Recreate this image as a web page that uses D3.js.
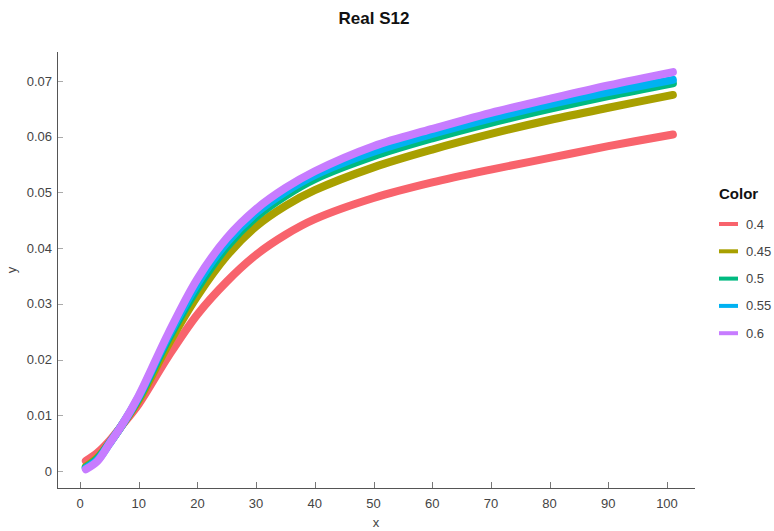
<!DOCTYPE html>
<html>
<head>
<meta charset="utf-8">
<script src="https://cdn.jsdelivr.net/npm/d3@7"></script>
<style>
  body { margin: 0; background: #fff; }
  svg { font-family: "Liberation Sans", Arial, sans-serif; }
</style>
</head>
<body>
<svg id="chart" width="774" height="531"></svg>
<script>
// data
var xs = [1, 3, 5, 7, 10, 15, 20, 25, 30, 35, 40, 50, 60, 70, 80, 90, 101];
var seriesNames = ['0.4', '0.45', '0.5', '0.55', '0.6'];
var y04  = [0.0018, 0.0033, 0.0054, 0.0080, 0.0120, 0.0205, 0.0281, 0.0340, 0.0388, 0.0424, 0.0452, 0.0490, 0.0518, 0.0541, 0.0562, 0.0583, 0.0604];
var y045 = [0.0008, 0.0024, 0.0050, 0.0080, 0.0127, 0.0226, 0.0314, 0.0386, 0.0439, 0.0476, 0.0504, 0.0545, 0.0577, 0.0605, 0.0630, 0.0652, 0.0675];
var y05  = [0.0006, 0.0022, 0.0050, 0.0080, 0.0131, 0.0236, 0.0328, 0.0402, 0.0456, 0.0494, 0.0524, 0.0565, 0.0597, 0.0625, 0.0650, 0.0673, 0.0696];
var y055 = [0.0005, 0.0020, 0.0049, 0.0080, 0.0133, 0.0241, 0.0336, 0.0410, 0.0463, 0.0501, 0.0531, 0.0573, 0.0605, 0.0633, 0.0658, 0.0680, 0.0702];
var y06  = [0.0003, 0.0018, 0.0049, 0.0080, 0.0135, 0.0246, 0.0345, 0.0418, 0.0470, 0.0508, 0.0538, 0.0583, 0.0614, 0.0643, 0.0668, 0.0692, 0.0716];
var colors = ['#F8636C', '#A8A000', '#00BA80', '#00B2F2', '#C77CFF'];
var xTicks = [0, 10, 20, 30, 40, 50, 60, 70, 80, 90, 100];
var yTicks = [0, 0.01, 0.02, 0.03, 0.04, 0.05, 0.06, 0.07];

var allY = [y04, y045, y05, y055, y06];
var series = seriesNames.map(function(n, i) {
    return { name: n, color: colors[i], values: xs.map(function(x, j) { return { x: x, y: allY[i][j] }; }) };
});

var svg = d3.select('#chart');

var x = d3.scaleLinear().domain([0, 100]).range([80, 667]);
var y = d3.scaleLinear().domain([0, 0.07]).range([471, 81]);

// axis lines
svg.append('line').attr('x1', 57.5).attr('x2', 57.5).attr('y1', 52).attr('y2', 489)
    .style('stroke', '#555').style('stroke-width', 1);
svg.append('line').attr('x1', 57).attr('x2', 695).attr('y1', 488.5).attr('y2', 488.5)
    .style('stroke', '#555').style('stroke-width', 1);

// y ticks
var yg = svg.append('g');
yg.selectAll('line').data(yTicks).enter().append('line')
    .attr('x1', 58).attr('x2', 63)
    .attr('y1', function(d) { return Math.round(y(d)) + 0.5; })
    .attr('y2', function(d) { return Math.round(y(d)) + 0.5; })
    .style('stroke', '#aaa');
yg.selectAll('text').data(yTicks).enter().append('text')
    .attr('x', 52).attr('y', function(d) { return y(d); })
    .attr('dy', '0.35em').attr('text-anchor', 'end')
    .style('font-size', '13px').style('fill', '#444')
    .text(function(d) { return d === 0 ? '0' : d3.format('.2f')(d); });

// x ticks
var xg = svg.append('g');
xg.selectAll('line').data(xTicks).enter().append('line')
    .attr('x1', function(d) { return Math.round(x(d)) + 0.5; })
    .attr('x2', function(d) { return Math.round(x(d)) + 0.5; })
    .attr('y1', 482).attr('y2', 488)
    .style('stroke', '#777');
xg.selectAll('text').data(xTicks).enter().append('text')
    .attr('x', function(d) { return x(d); }).attr('y', 508)
    .attr('text-anchor', 'middle')
    .style('font-size', '13px').style('fill', '#444')
    .text(function(d) { return d; });

// axis titles
svg.append('text').attr('x', 376).attr('y', 527).attr('text-anchor', 'middle')
    .style('font-size', '13px').style('fill', '#444').text('x');
svg.append('text').attr('transform', 'translate(16,270) rotate(-90)').attr('text-anchor', 'middle')
    .style('font-size', '13px').style('fill', '#444').text('y');

// title
svg.append('text').attr('x', 374).attr('y', 24).attr('text-anchor', 'middle')
    .style('font-size', '17px').style('font-weight', 'bold').style('fill', '#111').text('Real S12');

// curves
var line = d3.line()
    .x(function(d) { return x(d.x); })
    .y(function(d) { return y(d.y); })
    .curve(d3.curveCatmullRom.alpha(0.5));

svg.append('g').selectAll('path').data(series).enter().append('path')
    .attr('d', function(d) { return line(d.values); })
    .style('fill', 'none')
    .style('stroke', function(d) { return d.color; })
    .style('stroke-width', 8)
    .style('stroke-linecap', 'round')
    .style('stroke-linejoin', 'round');

// legend
var lg = svg.append('g');
lg.append('text').attr('x', 719).attr('y', 199)
    .style('font-size', '15px').style('font-weight', 'bold').style('fill', '#111').text('Color');
var items = lg.selectAll('g.item').data(series).enter().append('g')
    .attr('transform', function(d, i) { return 'translate(0,' + (224 + i * 27.3) + ')'; });
items.append('line').attr('x1', 719).attr('x2', 738).attr('y1', 0).attr('y2', 0)
    .style('stroke', function(d) { return d.color; }).style('stroke-width', 4);
items.append('text').attr('x', 746).attr('y', 0).attr('dy', '0.35em')
    .style('font-size', '13px').style('fill', '#444')
    .text(function(d) { return d.name; });
</script>
</body>
</html>
